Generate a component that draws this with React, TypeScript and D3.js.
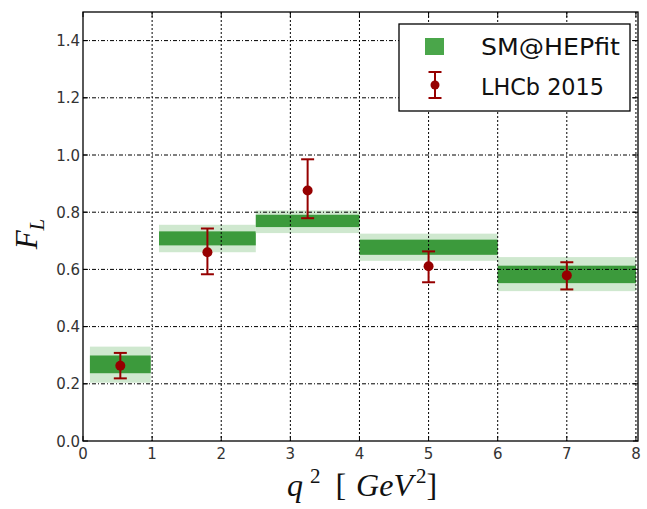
import React from "react";
import * as d3 from "d3";

// q^2 bins [GeV^2]
const binLow = [0.1, 1.1, 2.5, 4.0, 6.0];
const binHigh = [0.98, 2.5, 4.0, 6.0, 8.0];

// SM@HEPfit prediction: 1-sigma (dark) and 2-sigma (light) bands
const sm1Low = [0.237, 0.684, 0.748, 0.651, 0.552];
const sm1High = [0.299, 0.733, 0.791, 0.704, 0.613];
const sm2Low = [0.204, 0.66, 0.727, 0.63, 0.524];
const sm2High = [0.33, 0.756, 0.806, 0.725, 0.643];

// LHCb 2015 measurement
const lhcbX = [0.54, 1.8, 3.25, 5.0, 7.0];
const lhcbVal = [0.263, 0.66, 0.876, 0.611, 0.579];
const lhcbErrUp = [0.045, 0.083, 0.109, 0.052, 0.046];
const lhcbErrDn = [0.044, 0.077, 0.097, 0.056, 0.049];

const xTicks = [0, 1, 2, 3, 4, 5, 6, 7, 8];
const yTicks = [0.0, 0.2, 0.4, 0.6, 0.8, 1.0, 1.2, 1.4];

const W = 647;
const H = 509;
const left = 83;
const right = 638;
const top = 12;
const bottom = 441;

const DARK = "#3c9a3c";
const LIGHT = "#cfe8cf";
const RED = "#960000";

export default function App() {
  const x = d3.scaleLinear().domain([0, 8.03]).range([left, right]);
  const y = d3.scaleLinear().domain([0, 1.5]).range([bottom, top]);
  const cap = 6.5;

  return (
    <svg
      width={W}
      height={H}
      style={{ position: "absolute", left: 0, top: 0, background: "#fff" }}
      fontFamily="DejaVu Sans"
    >
      {/* bands */}
      {binLow.map((b, i) => (
        <g key={"band" + i}>
          <rect
            x={x(b)}
            y={y(sm2High[i])}
            width={x(binHigh[i]) - x(b)}
            height={y(sm2Low[i]) - y(sm2High[i])}
            fill={LIGHT}
          />
          <rect
            x={x(b)}
            y={y(sm1High[i])}
            width={x(binHigh[i]) - x(b)}
            height={y(sm1Low[i]) - y(sm1High[i])}
            fill={DARK}
          />
        </g>
      ))}

      {/* grid */}
      {xTicks.slice(1).map((t) => (
        <line
          key={"gx" + t}
          x1={x(t)}
          x2={x(t)}
          y1={top}
          y2={bottom}
          stroke="#000"
          strokeWidth={1}
          strokeDasharray="2,2"
        />
      ))}
      {yTicks.slice(1).map((t) => (
        <line
          key={"gy" + t}
          x1={left}
          x2={right}
          y1={y(t)}
          y2={y(t)}
          stroke="#000"
          strokeWidth={1}
          strokeDasharray="4,2,1,2"
        />
      ))}

      {/* LHCb points */}
      {lhcbX.map((px, i) => {
        const cx = x(px);
        const yt = y(lhcbVal[i] + lhcbErrUp[i]);
        const yb = y(lhcbVal[i] - lhcbErrDn[i]);
        return (
          <g key={"pt" + i} stroke={RED} strokeWidth={2}>
            <line x1={cx} x2={cx} y1={yt} y2={yb} />
            <line x1={cx - cap} x2={cx + cap} y1={yt} y2={yt} />
            <line x1={cx - cap} x2={cx + cap} y1={yb} y2={yb} />
            <circle cx={cx} cy={y(lhcbVal[i])} r={5} fill={RED} stroke="none" />
          </g>
        );
      })}

      {/* frame */}
      <rect
        x={left}
        y={top}
        width={right - left}
        height={bottom - top}
        fill="none"
        stroke="#000"
        strokeWidth={1.3}
      />

      {/* ticks */}
      {xTicks.map((t) => (
        <g key={"tx" + t}>
          <line x1={x(t)} x2={x(t)} y1={bottom} y2={bottom - 5} stroke="#000" />
          <line x1={x(t)} x2={x(t)} y1={top} y2={top + 5} stroke="#000" />
          <text
            x={x(t)}
            y={bottom + 18}
            textAnchor="middle"
            fontSize={15}
            fill="#333"
          >
            {t}
          </text>
        </g>
      ))}
      {yTicks.map((t) => (
        <g key={"ty" + t}>
          <line x1={left} x2={left + 5} y1={y(t)} y2={y(t)} stroke="#000" />
          <line x1={right} x2={right - 5} y1={y(t)} y2={y(t)} stroke="#000" />
          <text
            x={left - 3}
            y={y(t) + 5.5}
            textAnchor="end"
            fontSize={15}
            fill="#333"
          >
            {t.toFixed(1)}
          </text>
        </g>
      ))}

      {/* axis titles */}
      <text
        transform={`translate(37,${234}) rotate(-90)`}
        textAnchor="middle"
        fontFamily="Liberation Serif"
        fontStyle="italic"
        fontSize={31}
        fill="#111"
      >
        F<tspan fontSize={21} dy={7}>L</tspan>
      </text>
      <text
        x={362}
        y={496}
        textAnchor="middle"
        fontFamily="Liberation Serif"
        fontSize={32}
        fill="#111"
      >
        <tspan fontStyle="italic">q</tspan>
        <tspan fontSize={21} dy={-13} dx={7}>2</tspan>
        <tspan dy={13} dx={15}>[</tspan>
        <tspan fontStyle="italic" dx={10}>GeV</tspan>
        <tspan fontSize={21} dy={-13} dx={3}>2</tspan>
        <tspan dy={13}>]</tspan>
      </text>

      {/* legend */}
      <rect x={399} y={24} width={231} height={87} fill="#fff" stroke="#000" strokeWidth={1.3} />
      <rect x={425} y={38} width={19} height={17} fill="#4aa64a" />
      <text x={481} y={55} fontSize={23} fill="#111" textLength={139} lengthAdjust="spacingAndGlyphs">
        SM@HEPfit
      </text>
      <g stroke={RED} strokeWidth={2}>
        <line x1={435} x2={435} y1={72} y2={98} />
        <line x1={428.5} x2={441.5} y1={72} y2={72} />
        <line x1={428.5} x2={441.5} y1={98} y2={98} />
        <circle cx={435} cy={85} r={4.5} fill={RED} stroke="none" />
      </g>
      <text x={481} y={95} fontSize={23} fill="#111" textLength={123} lengthAdjust="spacingAndGlyphs">
        LHCb 2015
      </text>
    </svg>
  );
}
